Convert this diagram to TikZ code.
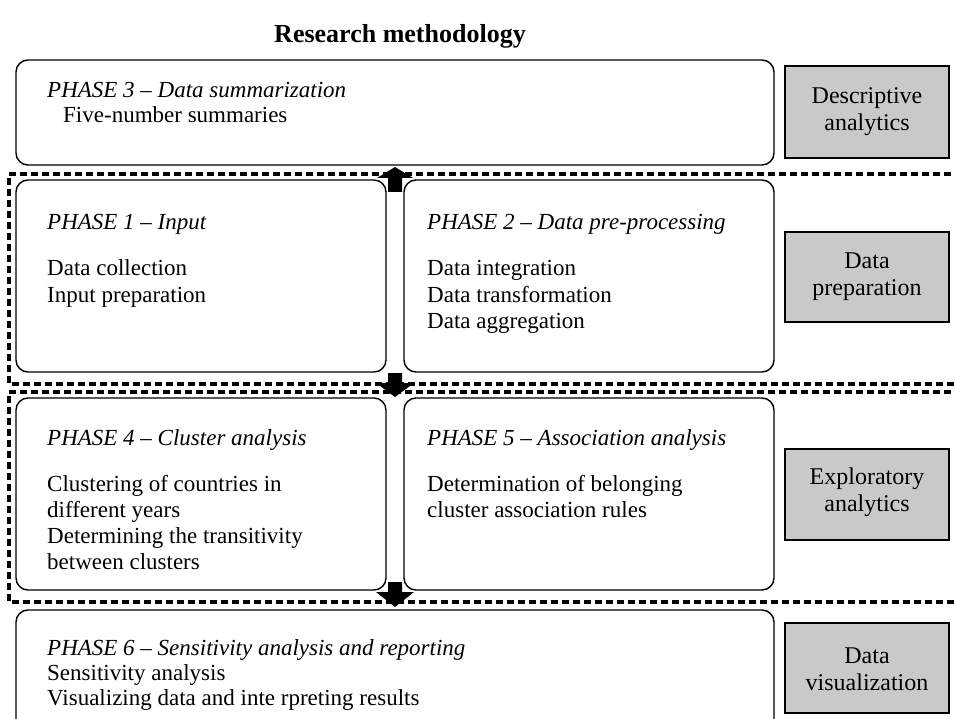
\documentclass[tikz,border=0pt]{standalone}
\usepackage{fontspec}
\setmainfont{Liberation Serif}
\begin{document}
\begin{tikzpicture}[x=1pt,y=-1pt,
  phase/.style={draw=black,line width=1.4pt,rounded corners=12pt},
  graybox/.style={draw=black,line width=1.5pt,fill=gray!42},
  grouplines/.style={line width=3.2pt,dash pattern=on 7pt off 4pt},
  txt/.style={anchor=base west,inner sep=0pt,font=\fontsize{23}{26}\selectfont},
  ptitle/.style={txt,font=\fontsize{23}{26}\selectfont\itshape},
  glabel/.style={align=center,font=\fontsize{24}{27}\selectfont},
  blockarrow/.style={fill=black,draw=none}]
\useasboundingbox (0,0) rectangle (955,719);
\clip (0,0) rectangle (955,719);
% title
\node[font=\fontsize{26}{30}\selectfont\bfseries] (title) at (400,36) {Research methodology};
% group regions (dashed)
\draw[grouplines] (962,174) -- (9,174) -- (9,384) -- (962,384);
\draw[grouplines] (962,392) -- (9,392) -- (9,602) -- (962,602);
% phase boxes
\draw[phase] (16,60) rectangle (774,165);
\draw[phase] (16,180) rectangle (386,372);
\draw[phase] (404,180) rectangle (774,372);
\draw[phase] (16,398) rectangle (386,590);
\draw[phase] (404,398) rectangle (774,590);
\draw[phase] (16,610) rectangle (774,760);
% phase texts
\node[ptitle] (p3t) at (47,98) {PHASE 3 -- Data summarization};
\node[txt] (p3a) at (63,123) {Five-number summaries};
\node[ptitle] (p1t) at (47,230) {PHASE 1 -- Input};
\node[txt] (p1a) at (47,276) {Data collection};
\node[txt] (p1b) at (47,302) {Input preparation};
\node[ptitle] (p2t) at (427,230) {PHASE 2 -- Data pre-processing};
\node[txt] (p2a) at (427,276) {Data integration};
\node[txt] (p2b) at (427,302) {Data transformation};
\node[txt] (p2c) at (427,328) {Data aggregation};
\node[ptitle] (p4t) at (47,445) {PHASE 4 -- Cluster analysis};
\node[txt] (p4a) at (47,491) {Clustering of countries in};
\node[txt] (p4b) at (47,517) {different years};
\node[txt] (p4c) at (47,543) {Determining the transitivity};
\node[txt] (p4d) at (47,569) {between clusters};
\node[ptitle] (p5t) at (427,445) {PHASE 5 -- Association analysis};
\node[txt] (p5a) at (427,491) {Determination of belonging};
\node[txt] (p5b) at (427,517) {cluster association rules};
\node[ptitle] (p6t) at (47,655) {PHASE 6 -- Sensitivity analysis and reporting};
\node[txt] (p6a) at (47,680) {Sensitivity analysis};
\node[txt] (p6b) at (47,705) {Visualizing data and inte rpreting results};
% gray boxes
\draw[graybox] (785,66) rectangle (949,158);
\node[glabel] (g1) at (867,112) {Descriptive\\analytics};
\draw[graybox] (785,232) rectangle (949,322);
\node[glabel] (g2) at (867,277) {Data\\preparation};
\draw[graybox] (785,449) rectangle (949,540);
\node[glabel] (g3) at (867,492) {Exploratory\\analytics};
\draw[graybox] (785,623) rectangle (949,713);
\node[glabel] (g4) at (867,669) {Data\\visualization};
% block arrows
\coordinate (a1) at (395,167);
\fill[blockarrow] (a1) -- ++(18,11) -- ++(-11,0) -- ++(0,14) -- ++(-14,0) -- ++(0,-14) -- ++(-11,0) -- cycle;
\coordinate (a2) at (395,397);
\fill[blockarrow] (a2) -- ++(19,-14) -- ++(-12,0) -- ++(0,-10) -- ++(-14,0) -- ++(0,10) -- ++(-12,0) -- cycle;
\coordinate (a3) at (395,607);
\fill[blockarrow] (a3) -- ++(19,-15) -- ++(-12,0) -- ++(0,-10) -- ++(-14,0) -- ++(0,10) -- ++(-12,0) -- cycle;
\end{tikzpicture}
\end{document}
